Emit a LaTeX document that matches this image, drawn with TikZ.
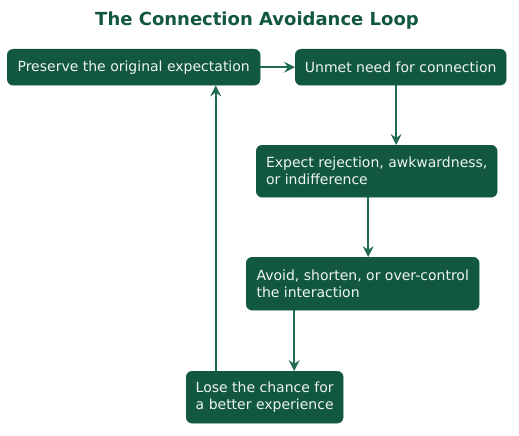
\documentclass[tikz,border=0pt]{standalone}
\usepackage{fontspec}
\setmainfont{DejaVu Sans}
\usetikzlibrary{arrows.meta,positioning}
\definecolor{loopgreen}{HTML}{12573F}
\definecolor{linegreen}{HTML}{1F6B4F}
\definecolor{boxtext}{HTML}{EEF5F1}

\begin{document}
\begin{tikzpicture}[
    x=1pt, y=-1pt,
    act/.style={draw=loopgreen, fill=loopgreen, text=boxtext, rectangle, rounded corners=6pt, align=left, anchor=north west, inner xsep=9pt, font=\fontsize{14}{17}\selectfont},
    arrow/.style={-{Stealth[length=11pt,width=11pt,inset=4pt]}, line width=1.8pt, draw=linegreen}
]
\useasboundingbox (0,0) rectangle (519,436);

% Title
\node[font=\bfseries\fontsize{18}{20}\selectfont, text=loopgreen] (title) at (257,21) {The Connection Avoidance Loop};

% Steps of the loop
\node[act, minimum width=253pt, minimum height=36pt] (preserve) at (7,49) {Preserve the original expectation};
\node[act, minimum width=211pt, minimum height=36pt] (unmet) at (295,49) {Unmet need for connection};
\node[act, minimum width=241pt, minimum height=52pt] (expect) at (256,145) {Expect rejection, awkwardness,\\or indifference};
\node[act, minimum width=233pt, minimum height=53pt] (avoid) at (246,257) {Avoid, shorten, or over-control\\the interaction};
\node[act, minimum width=157pt, minimum height=52pt] (lose) at (186,371) {Lose the chance for\\a better experience};

% Arrows
\draw[arrow] (preserve) -- (unmet);
\draw[arrow] ([xshift=-4.5pt]unmet.south) -- ([xshift=-4.5pt]unmet.south |- expect.north);
\draw[arrow] ([xshift=-8.5pt]expect.south) -- ([xshift=-8.5pt]expect.south |- avoid.north);
\draw[arrow] ([xshift=29.5pt]lose.north |- avoid.south) -- ([xshift=29.5pt]lose.north);

% Back to the start
\draw[arrow] ([xshift=-49pt]lose.north) -- ([xshift=-49pt]lose.north |- preserve.south);
\end{tikzpicture}
\end{document}
